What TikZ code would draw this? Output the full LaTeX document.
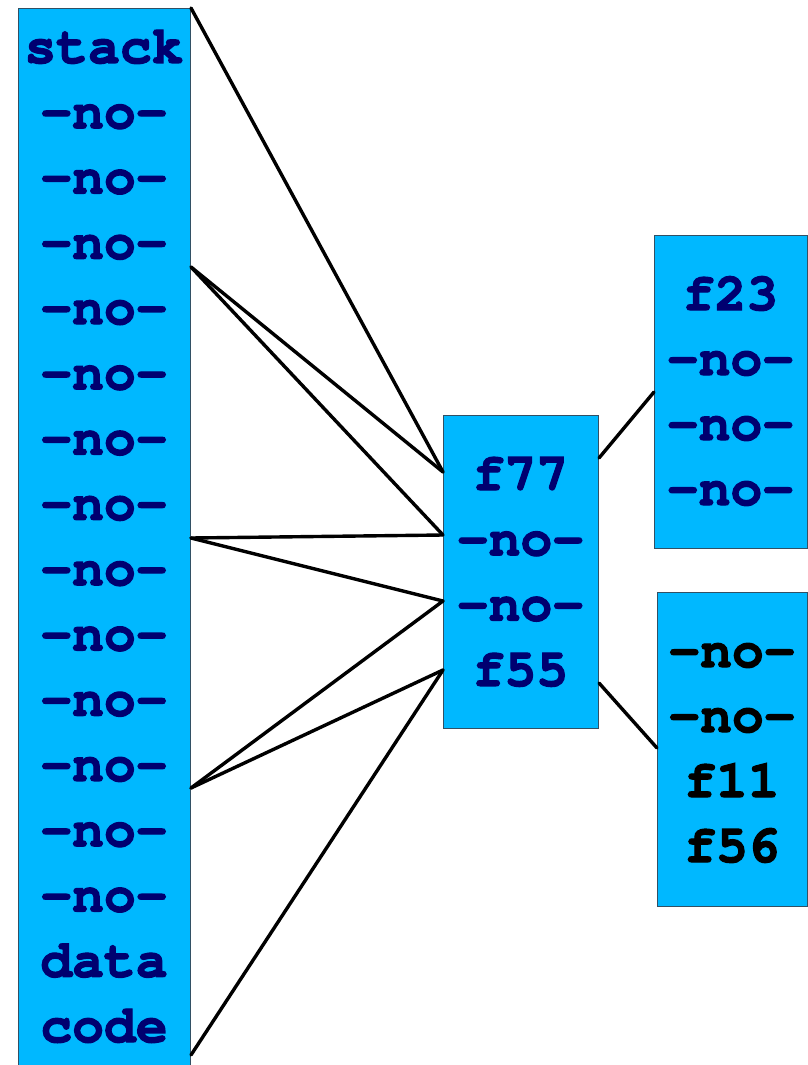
\documentclass[tikz,border=0pt]{standalone}
\usepackage[T1]{fontenc}
\usetikzlibrary{calc}
\definecolor{boxfill}{RGB}{0,184,255}
\definecolor{boxline}{RGB}{50,80,100}
\definecolor{navy}{RGB}{0,0,112}
\newcommand{\heavy}[1]{\special{pdf:literal direct 2 Tr 1.2 w}#1\special{pdf:literal direct 0 Tr}}
\begin{document}
\begin{tikzpicture}[x=1pt,y=-1pt,
  box/.style={draw=boxline, line width=1pt, fill=boxfill, inner sep=0pt, anchor=north west},
  lbl/.style={font=\fontfamily{pcr}\fontseries{b}\fontsize{53}{60}\selectfont, text=navy, anchor=base, inner sep=0pt},
  blk/.style={lbl, text=black},
  conn/.style={line width=3.4pt, black, line cap=round}]
\useasboundingbox (0,0) rectangle (808,1065);
% boxes
\node[box, minimum width=172pt, minimum height=1080pt] (L) at (18,8) {};
\node[box, minimum width=155pt, minimum height=313pt] (M) at (443,415) {};
\node[box, minimum width=153pt, minimum height=313pt] (T) at (654,235) {};
\node[box, minimum width=150pt, minimum height=314pt] (B) at (657,592) {};
% left labels
\foreach \t [count=\i from 0] in {stack,-no-,-no-,-no-,-no-,-no-,-no-,-no-,-no-,-no-,-no-,-no-,-no-,-no-,data,code}
  \node[lbl] (l\i) at (104,{63+65.27*\i}) {\heavy{\t}};
% middle labels
\foreach \t [count=\i from 0] in {f77,-no-,-no-,f55}
  \node[lbl] (m\i) at (520.5,{490+65.3*\i}) {\heavy{\t}};
% top right labels
\foreach \t [count=\i from 0] in {f23,-no-,-no-,-no-}
  \node[lbl] (t\i) at (730.5,{310+65*\i}) {\heavy{\t}};
% bottom right labels
\foreach \t [count=\i from 0] in {-no-,-no-,f11,f56}
  \node[blk] (b\i) at (732,{667+65*\i}) {\heavy{\t}};
% connector points
\coordinate (La) at (L.north east);
\coordinate (Lb) at ($(L.north east)+(0,259)$);
\coordinate (Lc) at ($(L.north east)+(0,530)$);
\coordinate (Ld) at ($(L.north east)+(0,780)$);
\coordinate (Le) at ($(L.north east)+(0,1047)$);
\coordinate (Ma) at ($(M.north west)+(0,57)$);
\coordinate (Mb) at ($(M.north west)+(0,120)$);
\coordinate (Mc) at ($(M.north west)+(0,186)$);
\coordinate (Md) at ($(M.north west)+(0,255)$);
\coordinate (Me) at ($(M.north east)+(0,43)$);
\coordinate (Mf) at ($(M.north east)+(0,268)$);
\coordinate (Ta) at ($(T.north west)+(0,157)$);
\coordinate (Ba) at ($(B.north west)+(0,156)$);
% connectors
\draw[conn] (La) -- (Ma);
\draw[conn] (Lb) -- (Ma);
\draw[conn] (Lb) -- (Mb);
\draw[conn] (Lc) -- (Mb);
\draw[conn] (Lc) -- (Mc);
\draw[conn] (Ld) -- (Mc);
\draw[conn] (Ld) -- (Md);
\draw[conn] (Le) -- (Md);
\draw[conn] (Me) -- (Ta);
\draw[conn] (Mf) -- (Ba);
\end{tikzpicture}
\end{document}
